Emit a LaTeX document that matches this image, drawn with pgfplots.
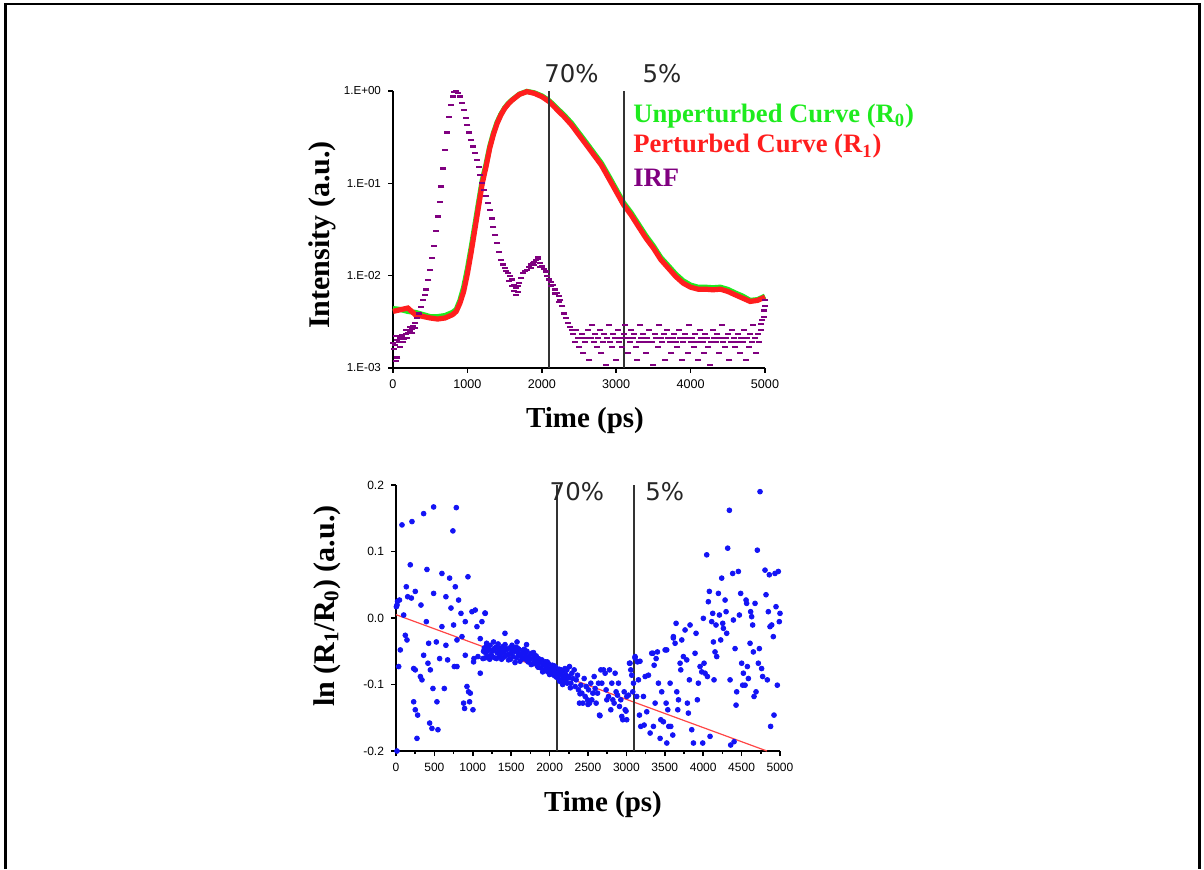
\documentclass[border=0pt]{standalone}
\usepackage{fontspec}
\setmainfont{Liberation Serif}
\newfontfamily\arialf{Liberation Sans}
\newfontfamily\pctf{DejaVu Sans}
\usepackage{pgfplots}
\pgfplotsset{compat=1.18}
\definecolor{cgreen}{RGB}{30,235,30}
\definecolor{cred}{RGB}{255,30,30}
\definecolor{cpurple}{RGB}{128,0,128}
\definecolor{cblue}{RGB}{20,20,245}
\definecolor{cline}{RGB}{255,70,70}
\begin{document}
\begin{tikzpicture}
\useasboundingbox (0,0) rectangle (602pt,434.5pt);
\draw[line width=1.3pt] (2.75pt,0pt) -- (2.75pt,432.5pt) -- (599.8pt,432.5pt) -- (599.8pt,0pt);

% ---------------- top panel ----------------
\begin{axis}[
  at={(196.5pt,250.5pt)}, anchor=south west, scale only axis,
  width=186pt, height=138.5pt,
  xmin=0, xmax=5000, ymode=log, ymin=1e-3, ymax=1,
  axis lines=left, axis line style={-, line width=1pt},
  xtick={0,1000,2000,3000,4000,5000},
  xticklabels={0,1000,2000,3000,4000,5000},
  ytick={0.001,0.01,0.1,1},
  yticklabels={1.E-03,1.E-02,1.E-01,1.E+00},
  yminorticks=false,
  tick style={black, line width=0.8pt}, tick align=outside, major tick length=2.5pt,
  xticklabel style={font=\arialf\fontsize{6.3}{7}\selectfont},
  yticklabel style={font=\arialf\fontsize{5.8}{7}\selectfont},
  clip=false,
  xlabel={Time (ps)},
  xlabel style={at={(axis description cs:0.516,-0.191)}, anchor=center, font=\bfseries\fontsize{14.5}{16}\selectfont},
  ylabel={Intensity (a.u.)},
  ylabel style={at={(axis description cs:-0.19,0.48)}, anchor=center, font=\bfseries\fontsize{15}{17}\selectfont},
]
\addplot[cgreen, line width=2.6pt] coordinates {
(0,0.0044) (100,0.0043) (200,0.0041) (300,0.0040) (400,0.0038) (500,0.0036) (600,0.0036) (700,0.0037) (800,0.0040) (850,0.0043) (900,0.0054) (950,0.0075) (1000,0.0118) (1050,0.0200) (1100,0.0350) (1150,0.062) (1200,0.108) (1250,0.160) (1300,0.25) (1350,0.35) (1400,0.46) (1450,0.56) (1500,0.655) (1550,0.735) (1600,0.80) (1700,0.925) (1800,0.99) (1900,0.955) (2000,0.885) (2100,0.785) (2200,0.655) (2300,0.548) (2400,0.448) (2500,0.350) (2600,0.274) (2700,0.213) (2800,0.166) (2900,0.120) (3000,0.086) (3100,0.0615) (3200,0.048) (3300,0.036) (3400,0.027) (3500,0.021) (3600,0.0157) (3700,0.0128) (3800,0.0104) (3900,0.0088) (4000,0.0079) (4100,0.0075) (4200,0.0075) (4300,0.0074) (4400,0.0075) (4500,0.0071) (4600,0.0065) (4700,0.0060) (4800,0.0054) (4900,0.0055) (5000,0.0060)
};
\addplot[cred, line width=2.6pt] coordinates {
(0,0.0041) (100,0.00428) (200,0.00446) (300,0.00378) (400,0.00362) (500,0.00348) (600,0.00339) (700,0.00348) (800,0.00378) (850,0.0041) (900,0.00505) (950,0.00675) (1000,0.0105) (1050,0.0178) (1100,0.0316) (1150,0.0562) (1200,0.1) (1250,0.151) (1300,0.24) (1350,0.339) (1400,0.447) (1450,0.55) (1500,0.646) (1550,0.724) (1600,0.794) (1700,0.92) (1800,0.984) (1900,0.944) (2000,0.869) (2100,0.767) (2200,0.634) (2300,0.527) (2400,0.429) (2500,0.334) (2600,0.261) (2700,0.203) (2800,0.158) (2900,0.1135) (3000,0.0815) (3100,0.0585) (3200,0.0455) (3300,0.034) (3400,0.0255) (3500,0.0199) (3600,0.0149) (3700,0.0121) (3800,0.0098) (3900,0.0083) (4000,0.0075) (4100,0.00714) (4200,0.00714) (4300,0.00703) (4400,0.00714) (4500,0.00675) (4600,0.0062) (4700,0.00571) (4800,0.00526) (4900,0.0054) (5000,0.00586)
};
\addplot[only marks, mark=-, mark size=1.5pt, cpurple, mark options={line width=1.1pt}] coordinates {
(0,0.00186) (25,0.00178) (50,0.0020) (75,0.0019) (100,0.00209) (125,0.00219) (150,0.00209) (175,0.00234) (200,0.0024) (225,0.00251) (250,0.00263) (275,0.00282) (300,0.00309) (325,0.00347) (350,0.00389) (375,0.00457) (400,0.0055) (425,0.00617) (450,0.00708) (475,0.0089) (500,0.0115) (525,0.0155) (550,0.0209) (575,0.0302) (600,0.0437) (625,0.063) (650,0.0923) (675,0.145) (700,0.229) (725,0.355) (750,0.525) (775,0.708) (800,0.871) (825,0.966) (850,1.0) (875,0.955) (900,0.871) (925,0.741) (950,0.617) (975,0.513) (1000,0.427) (1025,0.355) (1050,0.295) (1075,0.251) (1100,0.214) (1125,0.18) (1150,0.151) (1175,0.123) (1200,0.1) (1225,0.0851) (1250,0.0724) (1275,0.0617) (1300,0.0513) (1325,0.0417) (1350,0.0339) (1375,0.0275) (1400,0.0224) (1425,0.0182) (1450,0.0148) (1475,0.0132) (1500,0.012) (1525,0.0112) (1550,0.0107) (1575,0.01) (1600,0.0091) (1625,0.0079) (1650,0.0074) (1675,0.0078) (1700,0.0083) (1725,0.0095) (1750,0.0107) (1775,0.0112) (1800,0.0115) (1825,0.0123) (1850,0.0132) (1875,0.0138) (1900,0.0141) (1925,0.0148) (1950,0.0151) (1975,0.0138) (2000,0.0126) (2025,0.0117) (2050,0.0111) (2075,0.01) (2100,0.0091) (2125,0.0085) (2150,0.0079) (2175,0.0071) (2200,0.0065) (2225,0.006) (2250,0.0055) (2275,0.0047) (2300,0.0039) (2325,0.0035) (2350,0.0031) (2375,0.0028) (2400,0.0026)
(1620,0.0068) (1650,0.0062) (1680,0.0066) (1560,0.0088) (1600,0.0078) (1850,0.0120) (1900,0.0130) (1950,0.0160) (1980,0.0125) (2120,0.0078) (2180,0.0064) (2230,0.0052)
(10,0.0016) (40,0.0022) (60,0.0013) (90,0.0017) (115,0.0023) (140,0.0019) (170,0.0026) (190,0.0021) (230,0.0028) (260,0.0024) (40,0.0012) (300,0.0027)
(2420,0.00235) (2440,0.0019) (2460,0.0026) (2480,0.0021) (2500,0.0017) (2520,0.0021) (2540,0.00235) (2560,0.00145) (2580,0.0019) (2600,0.0021) (2620,0.0026) (2640,0.00122) (2660,0.0021) (2680,0.0029) (2700,0.0019) (2720,0.00235) (2740,0.0017) (2760,0.0021) (2780,0.0026) (2800,0.00145) (2820,0.0019) (2840,0.00235) (2860,0.00107) (2880,0.0021) (2900,0.0029) (2920,0.0019) (2940,0.0017) (2960,0.00235) (2980,0.0021) (3000,0.00122) (3020,0.0026) (3040,0.0019) (3060,0.0021) (3080,0.0017) (3100,0.00235) (3120,0.0029) (3140,0.0021) (3160,0.00145) (3180,0.0019) (3200,0.0026) (3220,0.0021) (3240,0.00235) (3260,0.0017) (3280,0.00122) (3300,0.0019) (3320,0.0029) (3340,0.0021) (3360,0.00235) (3380,0.0019) (3400,0.00145) (3420,0.0021) (3440,0.0026) (3460,0.0019) (3480,0.0019) (3500,0.00107) (3520,0.00235) (3540,0.0021) (3560,0.0017) (3580,0.0029) (3600,0.0021) (3620,0.0019) (3640,0.00235) (3660,0.00122) (3680,0.0026) (3700,0.0021) (3720,0.0019) (3740,0.00145) (3760,0.0021) (3780,0.00235) (3800,0.0019) (3820,0.0017) (3840,0.0026) (3860,0.0021) (3880,0.00122) (3900,0.0019) (3920,0.00235) (3940,0.0021) (3960,0.00145) (3980,0.0029) (4000,0.0019) (4020,0.0021) (4040,0.0017) (4060,0.00235) (4080,0.0019) (4100,0.00122) (4120,0.0026) (4140,0.0021) (4160,0.0019) (4180,0.00145) (4200,0.00235) (4220,0.0021) (4240,0.0017) (4260,0.00107) (4280,0.0019) (4300,0.0026) (4320,0.0021) (4340,0.0019) (4360,0.00235) (4380,0.00145) (4400,0.0021) (4420,0.0029) (4440,0.0019) (4460,0.0017) (4480,0.0021) (4500,0.00235) (4520,0.00122) (4540,0.0019) (4560,0.0026) (4580,0.0021) (4600,0.0017) (4620,0.0019) (4640,0.00235) (4660,0.00145) (4680,0.0021) (4700,0.0019) (4720,0.0026) (4740,0.00122) (4760,0.0021) (4780,0.0017) (4800,0.00235) (4820,0.0019) (4840,0.0029) (4860,0.0021) (4880,0.00145) (4900,0.00235) (4920,0.0019) (4940,0.0026)
(4950,0.0030) (4965,0.0033) (4980,0.0036) (4990,0.0042) (5000,0.0047) (5000,0.0054)
};
\addplot[black!80, line width=1pt] coordinates {(2100,0.001) (2100,1)};
\addplot[black!80, line width=1pt] coordinates {(3100,0.001) (3100,1)};
\node[font=\pctf\fontsize{12.2}{14}\selectfont, text=black!85] at (rel axis cs:0.48,1.062) {70\%};
\node[font=\pctf\fontsize{12.2}{14}\selectfont, text=black!85] at (rel axis cs:0.723,1.062) {5\%};
\node[anchor=west, font=\bfseries\fontsize{13.3}{15}\selectfont, text=cgreen] at (rel axis cs:0.627,0.91) {Unperturbed Curve (R\textsubscript{0})};
\node[anchor=west, font=\bfseries\fontsize{13.3}{15}\selectfont, text=cred] at (rel axis cs:0.627,0.80) {Perturbed Curve (R\textsubscript{1})};
\node[anchor=west, font=\bfseries\fontsize{13.3}{15}\selectfont, text=cpurple] at (rel axis cs:0.627,0.686) {IRF};
\end{axis}

% ---------------- bottom panel ----------------
\begin{axis}[
  at={(198pt,59pt)}, anchor=south west, scale only axis,
  width=192pt, height=133pt,
  xmin=0, xmax=5000, ymin=-0.2, ymax=0.2,
  axis lines=left, axis line style={-, line width=1pt},
  xtick={0,500,...,5000},
  xticklabels={0,500,1000,1500,2000,2500,3000,3500,4000,4500,5000},
  minor x tick num=1,
  ytick={-0.2,-0.1,0,0.1,0.2},
  yticklabels={-0.2,-0.1,0.0,0.1,0.2},
  tick style={black, line width=0.8pt}, tick align=outside, major tick length=2.5pt, minor tick length=1.5pt,
  ticklabel style={font=\arialf\fontsize{6}{7}\selectfont},
  clip=false,
  xlabel={Time (ps)},
  xlabel style={at={(axis description cs:0.539,-0.2)}, anchor=center, font=\bfseries\fontsize{14.5}{16}\selectfont},
  ylabel={ln (R\textsubscript{1}/R\textsubscript{0}) (a.u.)},
  ylabel style={at={(axis description cs:-0.18,0.545)}, anchor=center, font=\bfseries\fontsize{15}{17}\selectfont},
]
\addplot[only marks, mark=*, mark size=1.2pt, cblue] coordinates {
(13,-0.2) (13,0.0195) (5,0.017) (20,0.025) (45,0.027) (78,0.14) (208,0.145) (360,0.157) (490,0.167) (741,0.131) (785,0.166) (35,-0.073) (56,-0.048) (100,0.0045) (134,0.047) (152,0.032) (186,0.08) (200,0.03) (121,-0.026) (143,-0.033) (230,-0.076) (251,-0.078) (251,0.04) (230,-0.126) (251,-0.138) (282,-0.146) (273,-0.181) (325,0.0195) (317,-0.088) (338,-0.093) (360,-0.056) (395,-0.0055) (403,0.073) (425,-0.038) (416,-0.068) (447,-0.078) (438,-0.158) (468,-0.166) (481,-0.106) (490,0.037) (525,-0.036) (533,-0.126) (546,-0.168) (568,-0.061) (598,0.067) (598,-0.013) (629,-0.106) (650,-0.041) (650,0.032) (672,-0.063) (698,0.06) (716,0.015) (750,-0.0105) (759,-0.073) (772,0.047) (794,-0.033) (794,-0.073) (815,0.027) (846,0.007) (859,-0.028) (880,-0.128) (893,-0.136) (902,-0.056) (902,-0.0055) (924,-0.103) (937,0.062) (945,-0.111) (958,-0.126) (967,-0.113) (989,0.0095) (1002,-0.138) (1010,-0.066) (1015,-0.061) (1032,0.012) (1054,-0.013) (1067,-0.058) (1097,-0.083) (1097,-0.031) (1119,-0.0055) (1132,-0.061) (1140,-0.05) (1162,0.007) (1184,-0.041)
(1150,-0.045) (1165,-0.052) (1180,-0.038) (1195,-0.058) (1210,-0.047) (1225,-0.041) (1240,-0.055) (1255,-0.049) (1270,-0.036) (1285,-0.060) (1300,-0.044) (1315,-0.052) (1330,-0.039) (1345,-0.057) (1360,-0.048) (1375,-0.062) (1390,-0.043) (1405,-0.051) (1420,-0.040) (1435,-0.056) (1450,-0.047) (1465,-0.063) (1480,-0.045) (1495,-0.053) (1510,-0.041) (1525,-0.058) (1540,-0.050) (1555,-0.044) (1570,-0.060) (1585,-0.052) (1600,-0.047) (1615,-0.065) (1630,-0.055) (1645,-0.049) (1660,-0.061) (1675,-0.053) (1690,-0.058) (1705,-0.050) (1720,-0.066) (1735,-0.056) (1750,-0.062) (1765,-0.053) (1780,-0.069) (1795,-0.059) (1810,-0.064) (1825,-0.057) (1840,-0.072) (1855,-0.061) (1870,-0.067) (1885,-0.075) (1900,-0.063) (1915,-0.070) (1930,-0.078) (1945,-0.066) (1960,-0.073) (1975,-0.081) (1990,-0.069) (2005,-0.076) (2020,-0.084) (2035,-0.071) (2050,-0.079) (2065,-0.087) (2080,-0.074) (2095,-0.082) (2110,-0.090) (2125,-0.077) (2140,-0.085) (2155,-0.093) (2170,-0.080) (2185,-0.088) (2200,-0.076) (2215,-0.092)
(1160,-0.060) (1190,-0.050) (1220,-0.062) (1250,-0.058) (1280,-0.046) (1310,-0.061) (1340,-0.046) (1370,-0.053) (1400,-0.059) (1430,-0.047) (1460,-0.055) (1490,-0.062) (1520,-0.048) (1550,-0.067) (1580,-0.045) (1610,-0.056) (1640,-0.060) (1670,-0.047) (1700,-0.063) (1730,-0.059) (1760,-0.070) (1790,-0.052) (1820,-0.066) (1850,-0.074) (1880,-0.064) (1910,-0.081) (1940,-0.071) (1970,-0.066) (2000,-0.085) (2030,-0.079) (2060,-0.072) (2090,-0.089) (2120,-0.083) (2150,-0.078) (2180,-0.095) (2210,-0.085)
(1159,0.0075) (1419,-0.023) (1576,-0.036) (1700,-0.040) (2130,-0.095) (2170,-0.100) (2230,-0.098) (2250,-0.090) (2270,-0.105) (2396,-0.114)
(2225,-0.078) (2246,-0.088) (2259,-0.073) (2277,-0.098) (2290,-0.083) (2303,-0.091) (2320,-0.078) (2333,-0.103) (2346,-0.093) (2363,-0.086) (2376,-0.108) (2389,-0.128) (2407,-0.101) (2420,-0.113) (2433,-0.128) (2450,-0.091) (2463,-0.118) (2476,-0.103) (2493,-0.123) (2507,-0.108) (2520,-0.128) (2537,-0.098) (2550,-0.123) (2563,-0.113) (2580,-0.088) (2593,-0.106) (2606,-0.128) (2624,-0.113) (2637,-0.098) (2650,-0.146) (2667,-0.078) (2500,-0.130) (2656,-0.147)
(2680,-0.098) (2702,-0.078) (2723,-0.083) (2736,-0.108) (2745,-0.123) (2767,-0.118) (2780,-0.078) (2797,-0.138) (2810,-0.098) (2823,-0.123) (2840,-0.128) (2853,-0.083) (2866,-0.111) (2884,-0.116) (2897,-0.098) (2910,-0.133) (2927,-0.123) (2940,-0.148) (2953,-0.153) (2971,-0.111) (2984,-0.138) (3005,-0.118) (3027,-0.116) (3040,-0.068) (3057,-0.078) (3070,-0.086) (3083,-0.111) (2995,-0.140) (3004,-0.153) (3047,-0.068)
(3092,-0.098) (3113,-0.058) (3144,-0.066) (3157,-0.093) (3135,-0.118) (3170,-0.146) (3187,-0.163) (3222,-0.118) (3231,-0.161) (3244,-0.088) (3265,-0.141) (3287,-0.086) (3309,-0.173) (3330,-0.053) (3352,-0.163) (3361,-0.071) (3374,-0.128) (3387,-0.061) (3404,-0.051) (3417,-0.098) (3439,-0.181) (3448,-0.153) (3460,-0.111) (3482,-0.156) (3504,-0.048) (3517,-0.128) (3526,-0.188) (3539,-0.138) (3552,-0.163) (3569,-0.098) (3578,-0.163) (3604,-0.176) (3612,-0.028) (3634,-0.038) (3647,-0.008) (3656,-0.111) (3669,-0.138) (3678,-0.123) (3699,-0.068) (3708,-0.078) (3721,-0.033) (3742,-0.058) (3764,-0.018) (3786,-0.063) (3794,-0.128) (3807,-0.143) (3820,-0.093) (3829,-0.0105) (3851,-0.168) (3873,-0.188) (3894,-0.053) (3907,-0.023) (3924,-0.123) (3937,-0.098) (3959,-0.073) (3981,-0.081) (3994,-0.188) (4002,-0.0005) (4011,-0.068) (4024,-0.083) (4046,0.095) (4055,-0.088) (4067,0.0245) (4080,0.04) (4089,-0.178) (4111,-0.0055) (4124,0.007) (4133,-0.036) (4141,-0.093) (4154,-0.051) (4167,-0.0105) (4176,-0.058) (4198,0.037) (4211,0.0045) (4228,-0.033) (4241,0.06) (4254,-0.008) (4263,-0.0155) (4285,0.027) (4298,0.0095) (4306,-0.023) (4319,0.105) (4341,0.162) (4350,-0.093) (4358,-0.191) (4384,0.067) (4393,-0.003) (4402,-0.186) (4415,-0.046) (4428,-0.131) (4436,-0.111) (4458,0.07) (4471,0.0045) (4488,0.037) (4501,-0.068) (4514,-0.101) (4523,-0.083) (4545,-0.101) (4558,0.027) (4566,0.022) (4575,-0.073) (4588,-0.091) (4610,-0.038) (4618,0.0095) (4631,0.002) (4644,-0.0105) (4653,-0.051) (4662,-0.118) (4675,0.022) (4688,-0.111) (4705,0.102) (4718,-0.068) (4731,-0.046) (4740,0.19) (4761,-0.076) (4774,-0.088) (4805,0.072) (4818,0.035) (4835,-0.093) (4848,0.0095) (4861,0.065) (4870,-0.013) (4878,-0.163) (4892,-0.0105) (4913,-0.028) (4922,-0.146) (4935,0.067) (4948,0.017) (4965,-0.101) (4978,0.07) (4991,-0.0055) (5000,0.007)
(3112,-0.060) (3177,-0.065) (3346,-0.053) (3525,-0.048) (3611,-0.030)
};
\addplot[cline, line width=0.6pt] coordinates {(0,0.005) (4830,-0.2)};
\addplot[black!80, line width=1pt] coordinates {(2100,-0.2) (2100,0.2)};
\addplot[black!80, line width=1pt] coordinates {(3100,-0.2) (3100,0.2)};
\node[font=\pctf\fontsize{12.2}{14}\selectfont, text=black!85] at (rel axis cs:0.471,0.975) {70\%};
\node[font=\pctf\fontsize{12.2}{14}\selectfont, text=black!85] at (rel axis cs:0.70,0.975) {5\%};
\end{axis}
\end{tikzpicture}
\end{document}
